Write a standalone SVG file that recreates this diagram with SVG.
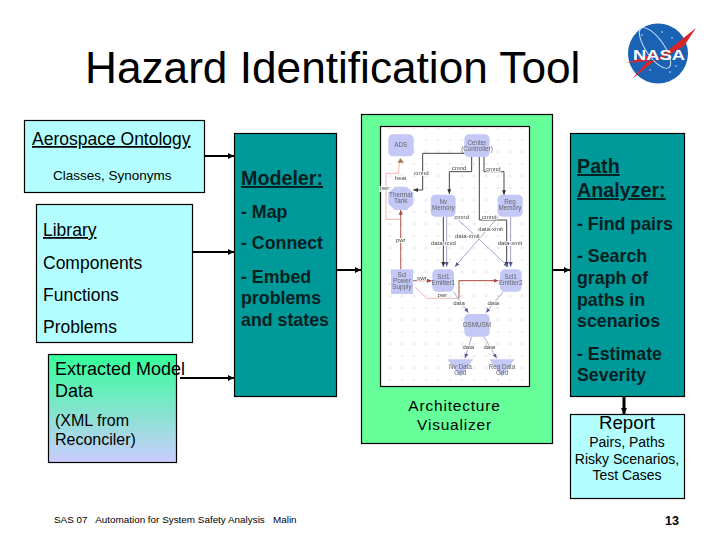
<svg xmlns="http://www.w3.org/2000/svg" width="720" height="540" viewBox="0 0 720 540">
<style>
text{font-family:"Liberation Sans",Arial,sans-serif;fill:#000}
.box{stroke:#000;stroke-width:1.2}
.cyan{fill:#b3ffff}
.teal{fill:#009999}
.t16{font-size:17.500px}
.m{font-size:17.800px;font-weight:bold;fill:#06201f}
.mh{font-size:19.700px;font-weight:bold;fill:#06201f;text-decoration:underline}
.con{stroke:#000;stroke-width:2;fill:none;marker-end:url(#arr)}
.n{fill:#c4c8f6}
.nt{font-size:19px;text-anchor:middle;fill:#666}
.el{font-size:18px;text-anchor:middle;fill:#444;paint-order:stroke;stroke:#fff;stroke-width:5px}
.dk{stroke:#444;stroke-width:3;fill:none;marker-end:url(#a2)}
.bl{stroke:#9096c4;stroke-width:2.5;fill:none;marker-end:url(#a3)}
.rd{stroke:#b86a60;stroke-width:3.5;fill:none;marker-end:url(#a4)}
.pk{stroke:#f0b8ae;stroke-width:3;fill:none}
</style>
<defs>
<linearGradient id="grad" x1="0" y1="0" x2="0" y2="1"><stop offset="0" stop-color="#33ff99"/><stop offset="1" stop-color="#ccccff"/></linearGradient>
<marker id="arr" markerWidth="7" markerHeight="7" refX="6" refY="3" orient="auto" markerUnits="userSpaceOnUse"><path d="M0 0L6 3L0 6z" fill="#000"/></marker>
<marker id="a2" markerWidth="16" markerHeight="14" refX="14" refY="6" orient="auto" markerUnits="userSpaceOnUse"><path d="M0 0L14 6L0 12z" fill="#333"/></marker>
<marker id="a3" markerWidth="16" markerHeight="14" refX="14" refY="6" orient="auto" markerUnits="userSpaceOnUse"><path d="M0 0L14 6L0 12z" fill="#555a90"/></marker>
<marker id="a4" markerWidth="16" markerHeight="14" refX="14" refY="6" orient="auto" markerUnits="userSpaceOnUse"><path d="M0 0L14 6L0 12z" fill="#a04a40"/></marker>
<pattern id="dots" width="36" height="36" patternUnits="userSpaceOnUse"><path d="M18 14v8M14 18h8" stroke="#dcdcdc" stroke-width="2"/></pattern>
<filter id="soft" x="-5%" y="-5%" width="110%" height="110%"><feGaussianBlur stdDeviation="1.6"/></filter>
</defs>
<text x="85" y="83" font-size="44.200">Hazard Identification Tool</text>
<g id="nasa-logo">
<circle cx="658" cy="53.500" r="30" fill="#1a62b4"/>
<ellipse cx="655" cy="48" rx="9" ry="24" transform="rotate(-35 655 48)" fill="none" stroke="#cfe2f5" stroke-width="1"/>
<path d="M632 79L662 55L696 28L684 46L660 60L627 63L655 53z" fill="#d8262c"/>
<text x="659" y="60" font-size="15.500" font-weight="bold" text-anchor="middle" style="fill:#fff" textLength="52" lengthAdjust="spacingAndGlyphs">NASA</text>
<g fill="#fff"><circle cx="642" cy="35" r=".7"/><circle cx="662" cy="32" r=".7"/><circle cx="672" cy="38" r=".7"/><circle cx="670" cy="72" r=".7"/><circle cx="650" cy="70" r=".7"/><circle cx="676" cy="66" r=".7"/></g>
</g>
<g id="connectors">
<path class="con" d="M205 156H234"/>
<path class="con" d="M193 252H234"/>
<path class="con" d="M180 378H234"/>
<path class="con" d="M337 270H361"/>
<path class="con" d="M553 270H570"/>
<path class="con" style="stroke-width:3" d="M624 396V414"/>
</g>
<g id="aerospace-ontology">
<rect class="box cyan" x="24.500" y="120.500" width="180" height="72"/>
<text x="32" y="145" class="t16" text-decoration="underline">Aerospace Ontology</text>
<text x="53" y="180" font-size="13.500">Classes, Synonyms</text>
</g>
<g id="library">
<rect class="box cyan" x="36.500" y="204.500" width="156" height="138"/>
<text x="43" y="236" class="t16" text-decoration="underline">Library</text>
<text x="43" y="269" class="t16">Components</text>
<text x="43" y="301" class="t16">Functions</text>
<text x="43" y="333" class="t16">Problems</text>
</g>
<g id="extracted-model-data">
<rect class="box" fill="url(#grad)" x="48.500" y="354.500" width="128" height="108"/>
<text x="55" y="375" font-size="18">Extracted Model</text>
<text x="55" y="397" font-size="18">Data</text>
<text x="55" y="426" font-size="16">(XML from</text>
<text x="55" y="445" font-size="16">Reconciler)</text>
</g>
<g id="modeler">
<rect class="box teal" x="234.500" y="133.500" width="102" height="263"/>
<text x="241" y="185" class="mh">Modeler:</text>
<text x="241" y="218" class="m">- Map</text>
<text x="241" y="249" class="m">- Connect</text>
<text x="241" y="283" class="m">- Embed</text>
<text x="241" y="304" class="m">problems</text>
<text x="241" y="326" class="m">and states</text>
</g>
<g id="architecture-visualizer">
<rect class="box" fill="#66ff99" x="361.500" y="114.500" width="191" height="329"/>
<rect x="380.500" y="126.500" width="149" height="260" fill="#fff" stroke="#000" stroke-width="1.200"/>
<text x="454.500" y="411" font-size="15.500" font-weight="500" text-anchor="middle" letter-spacing=".8">Architecture</text>
<text x="454.500" y="430" font-size="15.500" font-weight="500" text-anchor="middle" letter-spacing=".8">Visualizer</text>
<g transform="translate(360 110) scale(.33333)">
<rect x="62" y="51" width="446" height="776" fill="url(#dots)"/>
<g filter="url(#soft)">
<path class="dk" d="M313 130H188V240H160"/>
<path class="dk" d="M335 140V185H268V252"/>
<path class="dk" d="M372 140V185H432V255"/>
<path class="pk" d="M85 240H78V190H115L120 145"/>
<path class="pk" d="M78 240V328H122"/>
<path class="rd" d="M122 478V300"/>
<path class="rd" d="M155 512H215"/>
<path class="pk" d="M165 530L200 565H295"/>
<path class="rd" d="M297 565V512H415"/>
<path class="dk" d="M250 320V470"/>
<path class="bl" d="M260 320V470"/>
<path class="dk" d="M440 330V470"/>
<path class="bl" d="M452 320V470"/>
<path class="bl" d="M285 320L445 470"/>
<path class="bl" d="M415 320L285 470"/>
<path d="M358 140V330H440" stroke="#444" stroke-width="3" fill="none"/>
<path class="bl" d="M280 545L325 608"/>
<path class="bl" d="M430 545L378 608"/>
<path class="bl" d="M335 680L315 745"/>
<path class="bl" d="M372 680L410 745"/>
<path d="M122 145L112 158H132z" fill="#a08050"/>
</g>
<g filter="url(#soft)">
<rect class="n" x="85" y="73" width="76" height="66" rx="14"/>
<rect class="n" x="313" y="73" width="76" height="68" rx="14"/>
<path class="n" d="M105 230H140L160 248V282L140 300H105L85 282V248z"/>
<rect class="n" x="212" y="254" width="75" height="66" rx="14"/>
<rect class="n" x="413" y="254" width="75" height="66" rx="14"/>
<rect class="n" x="93" y="478" width="66" height="74"/>
<rect class="n" x="217" y="478" width="65" height="67" rx="14"/>
<rect class="n" x="420" y="478" width="65" height="67" rx="14"/>
<rect class="n" x="313" y="612" width="76" height="68" rx="14"/>
<path class="n" d="M262 748H340L301 800z"/>
<path class="n" d="M388 748H464L426 800z"/>
</g>
<g style="filter:blur(.6px)">
<text class="nt" x="122" y="112">ADS</text>
<text class="nt" x="351" y="104">Center</text><text class="nt" x="351" y="122">(Controller)</text>
<text class="nt" x="122" y="262">Thermal</text><text class="nt" x="122" y="280">Tank</text>
<text class="nt" x="250" y="282">Nv</text><text class="nt" x="250" y="300">Memory</text>
<text class="nt" x="450" y="282">Reg</text><text class="nt" x="450" y="300">Memory</text>
<text class="nt" x="126" y="502">Sci</text><text class="nt" x="126" y="520">Power</text><text class="nt" x="126" y="538">Supply</text>
<text class="nt" x="250" y="506">Sci1</text><text class="nt" x="250" y="524">Emitter1</text>
<text class="nt" x="452" y="506">Sci1</text><text class="nt" x="452" y="524">Emitter2</text>
<text class="nt" x="351" y="651">DSMUSM</text>
<text class="nt" x="301" y="776">Nv Data</text><text class="nt" x="301" y="794">Grid</text>
<text class="nt" x="426" y="776">Reg Data</text><text class="nt" x="426" y="794">Grid</text>
<text class="el" x="184" y="195">cmnd</text>
<text class="el" x="297" y="181">cmnd</text>
<text class="el" x="400" y="183">cmnd</text>
<text class="el" x="122" y="211">heat</text>
<text class="el" x="73" y="240">pwr</text>
<text class="el" x="122" y="395">pwr</text>
<text class="el" x="305" y="327">cmnd</text>
<text class="el" x="388" y="327">cmnd</text>
<text class="el" x="392" y="362">data-xmit</text>
<text class="el" x="322" y="384">data-xmit</text>
<text class="el" x="250" y="404">data-rcvd</text>
<text class="el" x="450" y="404">data-xmit</text>
<text class="el" x="186" y="510">pwr</text>
<text class="el" x="247" y="561">pwr</text>
<text class="el" x="297" y="584">data</text>
<text class="el" x="400" y="584">data</text>
<text class="el" x="325" y="718">data</text>
<text class="el" x="388" y="718">data</text>
</g>
</g>
</g>
<g id="path-analyzer">
<rect class="box teal" x="570.500" y="133.500" width="114" height="263"/>
<text x="577" y="173" class="mh">Path</text>
<text x="577" y="197" class="mh">Analyzer:</text>
<text x="577" y="230" class="m">- Find pairs</text>
<text x="577" y="262" class="m">- Search</text>
<text x="577" y="284" class="m">graph of</text>
<text x="577" y="306" class="m">paths in</text>
<text x="577" y="327" class="m">scenarios</text>
<text x="577" y="360" class="m">- Estimate</text>
<text x="577" y="381" class="m">Severity</text>
</g>
<g id="report">
<rect class="box cyan" x="570.500" y="414.500" width="114" height="84"/>
<text x="627" y="429" font-size="18.700" text-anchor="middle">Report</text>
<text x="627" y="447" font-size="14" text-anchor="middle">Pairs, Paths</text>
<text x="627" y="464" font-size="14" text-anchor="middle">Risky Scenarios,</text>
<text x="627" y="480" font-size="14" text-anchor="middle">Test Cases</text>
</g>
<text x="54" y="523" font-size="9.900" style="white-space:pre">SAS 07   Automation for System Safety Analysis   Malin</text>
<text x="665" y="525" font-size="12.500" font-weight="bold">13</text>
</svg>
